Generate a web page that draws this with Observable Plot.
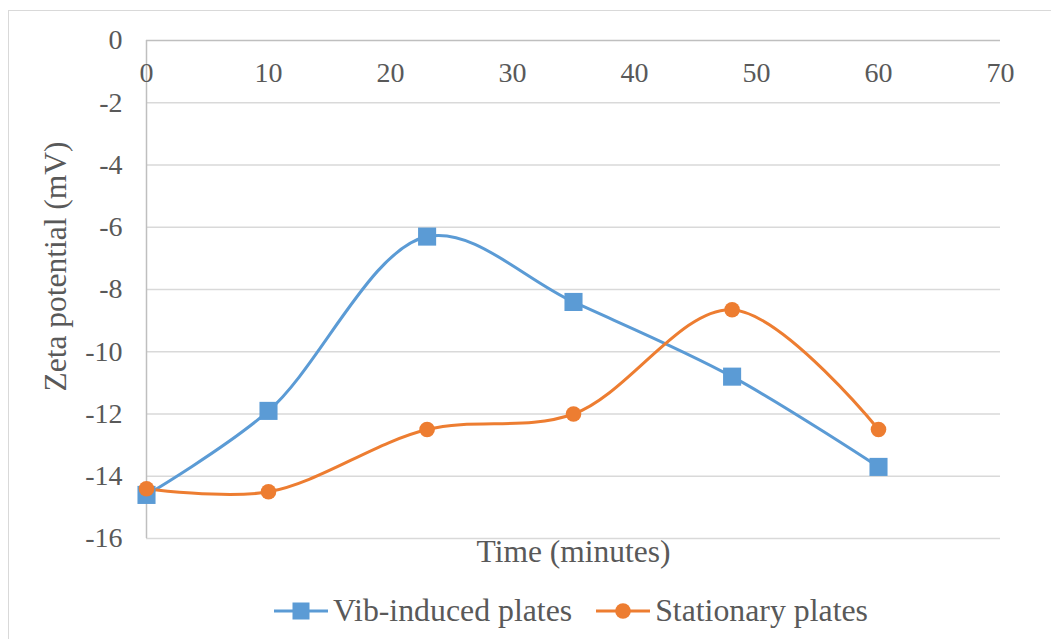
<!DOCTYPE html>
<html>
<head>
<meta charset="utf-8">
<script src="https://cdn.jsdelivr.net/npm/d3@7"></script>
<script src="https://cdn.jsdelivr.net/npm/@observablehq/plot@0.6"></script>
<style>
  html, body { margin: 0; padding: 0; background: #fff; }
  body { width: 1051px; height: 639px; position: relative; overflow: hidden; font-family: 'Liberation Serif', serif; }
  #frame { position: absolute; left: 8px; top: 10px; width: 1100px; height: 700px; border: 1px solid #d9d9d9; box-sizing: border-box; }
  #chart { position: absolute; left: 0; top: 0; }
  #legend { position: absolute; left: 274px; top: 592px; height: 38px; display: flex; align-items: center; gap: 24px; font-size: 31.8px; color: #595959; font-family: 'Liberation Serif', serif; white-space: nowrap; }
  .item { display: flex; align-items: center; }
  .item svg { margin-right: 5px; }
</style>
</head>
<body>
<div id="frame"></div>
<div id="chart"></div>
<div id="legend"></div>
<script>
const times = [0, 10, 23, 35, 48, 60];
const vibInduced = [-14.6, -11.9, -6.3, -8.4, -10.8, -13.7];
const stationary = [-14.4, -14.5, -12.5, -12.0, -8.65, -12.5];
const seriesNames = ["Vib-induced plates", "Stationary plates"];
const seriesColors = ["#5b9bd5", "#ed7d31"];
const xTicks = [0, 10, 20, 30, 40, 50, 60, 70];
const yTicks = [0, -2, -4, -6, -8, -10, -12, -14, -16];

const FONT = "'Liberation Serif', serif";
const vibData = times.map((t, i) => ({t, v: vibInduced[i]}));
const statData = times.map((t, i) => ({t, v: stationary[i]}));

const plot = Plot.plot({
  width: 1051,
  height: 580,
  marginLeft: 146,
  marginRight: 51,
  marginTop: 40,
  marginBottom: 42,
  style: {fontFamily: FONT, background: "transparent", color: "#595959"},
  x: {domain: [0, 70], axis: null},
  y: {domain: [-16, 0], axis: null},
  marks: [
    Plot.ruleY(yTicks.filter(d => d !== 0), {stroke: "#d9d9d9", strokeWidth: 1.5}),
    Plot.ruleY([0], {stroke: "#bfbfbf", strokeWidth: 1.5}),
    Plot.ruleX([0], {stroke: "#bfbfbf", strokeWidth: 1.5}),
    Plot.axisY({ticks: yTicks, tickSize: 0, tickPadding: 24, label: null, fontSize: 28, fontFamily: FONT, fill: "#595959", tickFormat: d => d === 0 ? "0" : "-" + Math.abs(d)}),
    Plot.text(xTicks, {x: d => d, y: () => 0, dy: 32.5, text: d => String(d), fontSize: 28, fontFamily: FONT, fill: "#595959"}),
    Plot.text(["Time (minutes)"], {frameAnchor: "bottom", dy: 23, fontSize: 31.5, fontFamily: FONT, fill: "#595959"}),
    Plot.text(["Zeta potential (mV)"], {frameAnchor: "left", textAnchor: "middle", dx: -91, dy: -23, rotate: -90, fontSize: 31.5, fontFamily: FONT, fill: "#595959"}),
    Plot.line(vibData, {x: "t", y: "v", curve: "catmull-rom", stroke: seriesColors[0], strokeWidth: 3}),
    Plot.line(statData, {x: "t", y: "v", curve: "catmull-rom", stroke: seriesColors[1], strokeWidth: 3}),
    Plot.dot(vibData, {x: "t", y: "v", symbol: "square", r: 10.2, fill: seriesColors[0]}),
    Plot.dot(statData, {x: "t", y: "v", symbol: "circle", r: 7.8, fill: seriesColors[1]})
  ]
});
document.getElementById("chart").appendChild(plot);

const legend = document.getElementById("legend");
seriesNames.forEach((name, i) => {
  const item = document.createElement("div");
  item.className = "item";
  const marker = i === 0
    ? `<rect x="18.5" y="10.5" width="17" height="17" fill="${seriesColors[i]}"/>`
    : `<circle cx="27" cy="19" r="7.8" fill="${seriesColors[i]}"/>`;
  item.innerHTML = `<svg width="54" height="38"><line x1="0" x2="54" y1="19" y2="19" stroke="${seriesColors[i]}" stroke-width="3"/>${marker}</svg><span style="font-family:${FONT}">${name}</span>`;
  legend.appendChild(item);
});
</script>
</body>
</html>
